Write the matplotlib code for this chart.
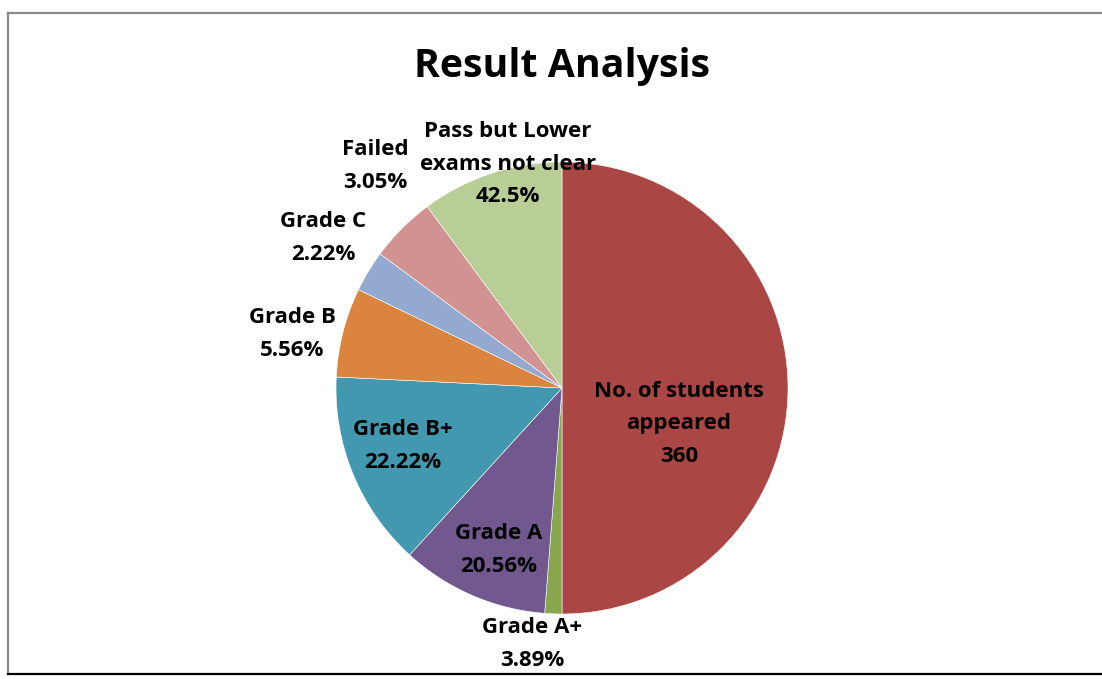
import matplotlib
matplotlib.use("Agg")
import matplotlib.pyplot as plt
from matplotlib.lines import Line2D

# Data (slice sizes; label texts as printed)
categories = ["No. of students appeared", "Grade A+", "Grade A", "Grade B+",
              "Grade B", "Grade C", "Failed", "Pass but Lower exams not clear"]
values = [360, 8.8, 76, 100.8, 46, 21.2, 34, 73.2]
label_texts = ["No. of students\nappeared\n360", "Grade A+\n3.89%", "Grade A\n20.56%",
               "Grade B+\n22.22%", "Grade B\n5.56%", "Grade C\n2.22%",
               "Failed\n3.05%", "Pass but Lower\nexams not clear\n42.5%"]
colors = ["#AA4643", "#89A54E", "#71588F", "#4198AF", "#DB843D",
          "#93A9CF", "#D19392", "#B9CD96"]

W, H = 1102, 679
fig = plt.figure(figsize=(W / 100, H / 100), dpi=100)
fig.patch.set_facecolor("white")

cx, cy, r = 562, 388, 226
ax = fig.add_axes([(cx - r) / W, (H - cy - r) / H, 2 * r / W, 2 * r / H])
ax.pie(values, colors=colors, startangle=90, counterclock=False, radius=1,
       wedgeprops=dict(edgecolor="white", linewidth=0.4))
ax.set_xlim(-1, 1)
ax.set_ylim(-1, 1)
ax.set_aspect("equal")
ax.axis("off")

font = "Open Sans"
fig.text(562 / W, 1 - 66 / H, "Result Analysis", ha="center", va="center",
         fontsize=28.3, fontweight="bold", family=font)

# label centre positions in pixels (x, y from top)
label_pos = [(679, 424), (532, 644), (499, 550), (403, 446), (292, 334),
             (323, 238), (375, 166), (508, 164)]
for txt, (px, py) in zip(label_texts, label_pos):
    fig.text(px / W, 1 - py / H, txt, ha="center", va="center",
             fontsize=16, fontweight="bold", family=font, linespacing=1.7,
             color="black")

# chart-area border fragments
fig.add_artist(Line2D([8 / W, 1], [1 - 13 / H, 1 - 13 / H], color="#8a8a8a", lw=1.6,
                      transform=fig.transFigure))
fig.add_artist(Line2D([8 / W, 8 / W], [1 - 13 / H, 1 - 674 / H], color="#8a8a8a", lw=1.6,
                      transform=fig.transFigure))
fig.add_artist(Line2D([8 / W, 1], [1 - 674 / H, 1 - 674 / H], color="black", lw=1.6,
                      transform=fig.transFigure))

fig.savefig("out.png", dpi=100, facecolor="white")
